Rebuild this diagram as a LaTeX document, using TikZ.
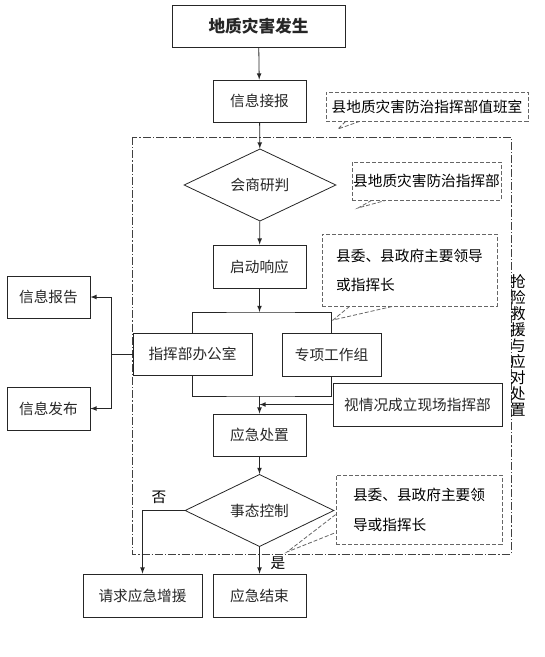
\documentclass[tikz,border=0pt]{standalone}
\usepackage{fontspec}
\setmainfont{Noto Sans CJK SC}
\usetikzlibrary{shapes.geometric,calc}
\begin{document}
\begin{tikzpicture}[x=0.75pt,y=-0.75pt,
	font=\fontsize{11}{13}\selectfont,
	box/.style={draw=black!85, line width=0.6pt, text=black!85, inner sep=0pt},
	pan/.style={diamond, draw=black!85, line width=0.6pt, text=black!85, inner sep=0pt},
	shuoming/.style={draw=black!60, dash pattern=on 3pt off 1.5pt, line width=0.6pt, inner sep=0pt},
	tail/.style={draw=black!60, dash pattern=on 3pt off 1.5pt, line width=0.6pt},
	arr/.style={-latex, line width=0.6pt, draw=black!85}]
	\useasboundingbox (0,0) rectangle (545,657);
	% dash-dot frame
	\draw[black!75, line width=0.6pt, dash pattern=on 6pt off 1.5pt on 1pt off 1.5pt] (132,137) rectangle (511,554);
	\node (jiuyuan) at (518,345) [align=center, font=\fontsize{11.5}{12}\selectfont] {抢\\险\\救\\援\\与\\应\\对\\处\\置};

	\node[box, minimum width=129.75pt, minimum height=31.5pt, font=\fontsize{12.5}{15}\selectfont\bfseries] (fasheng) at (258.5,26.5) {地质灾害发生};
	\node[box, minimum width=69.75pt, minimum height=31.5pt] (jiebao) at (259.5,101) {信息接报};
	\node[shuoming, minimum width=151.5pt, minimum height=21.75pt] (zhiban) at (427,106.5) {县地质灾害防治指挥部值班室};
	\node[pan, minimum width=114pt, minimum height=49.5pt] (yanpan) at (260,185) {会商研判};
	\node[shuoming, minimum width=111.75pt, minimum height=28.5pt] (zhihuibu) at (426.5,181) {县地质灾害防治指挥部};
	\node[box, minimum width=69.75pt, minimum height=32.25pt] (qidong) at (259.5,266.5) {启动响应};
	\node[shuoming, minimum width=131.25pt, minimum height=54pt, align=left, font=\fontsize{11}{21.75}\selectfont] (lingdao) at (409.5,270) {县委、县政府主要领导\\或指挥长};
	\node[box, minimum width=89.25pt, minimum height=31.5pt] (bangong) at (192.5,354) {指挥部办公室};
	\node[box, minimum width=74.25pt, minimum height=32.25pt] (zhuanxiang) at (331.5,354.5) {专项工作组};
	\node[box, minimum width=126.75pt, minimum height=32.25pt] (xianchang) at (417.5,404.5) {视情况成立现场指挥部};
	\node[box, minimum width=62.25pt, minimum height=31.5pt] (baogao) at (48.5,297) {信息报告};
	\node[box, minimum width=62.25pt, minimum height=32.25pt] (fabu) at (48.5,408.5) {信息发布};
	\node[box, minimum width=69.75pt, minimum height=31.5pt] (chuzhi) at (259.5,435) {应急处置};
	\node[pan, minimum width=111.75pt, minimum height=50.25pt] (kongzhi) at (259.5,510.5) {事态控制};
	\node[shuoming, minimum width=124.5pt, minimum height=51.75pt, align=left, font=\fontsize{11}{22.5}\selectfont] (lingdaob) at (419,509.5) {县委、县政府主要领\\导或指挥长};
	\node[box, minimum width=89.25pt, minimum height=32.25pt] (zengyuan) at (142.5,595.5) {请求应急增援};
	\node[box, minimum width=69.75pt, minimum height=32.25pt] (jieshu) at (259.5,595.5) {应急结束};
	\node (fou) at (159,497) {否};
	\node (shi) at (278,563) {是};

	% callout tails
	\coordinate (zhibanjian) at (338,129);
	\draw[tail] ($(zhiban.south west)+(20,0)$) -- (zhibanjian) -- ($(zhiban.south west)+(34,0)$);
	\coordinate (zhihuibujian) at (358,208);
	\draw[tail] ($(zhihuibu.south west)+(20,0)$) -- (zhihuibujian) -- ($(zhihuibu.south west)+(34,0)$);
	\coordinate (lingdaojian) at (333,320);
	\draw[tail] ($(lingdao.south west)+(28,0)$) -- (lingdaojian) -- ($(lingdao.south west)+(71,0)$);
	\coordinate (lingdaobjian) at (287,552);
	\draw[tail] ($(lingdaob.north west)+(0,40)$) -- (lingdaobjian) -- ($(lingdaob.north west)+(0,58)$);

	% flow
	\coordinate (fenzhi) at (259.5,312);
	\coordinate (huiju) at (259.5,396);
	\coordinate (zuo) at (111,354);
	\draw[arr] (fasheng) -- (jiebao);
	\draw[arr] (jiebao) -- (yanpan);
	\draw[arr] (yanpan) -- (qidong);
	\draw[arr] (qidong) -- (fenzhi);
	\draw[line width=0.6pt, black!85] (bangong.north) |- (fenzhi) -| (zhuanxiang.north);
	\draw[line width=0.6pt, black!85] (bangong.south) |- (huiju) -| (zhuanxiang.south);
	\draw[arr] (huiju) -- (chuzhi);
	\draw[arr] (xianchang.west) -- (xianchang.west -| chuzhi.north);
	\draw[line width=0.6pt, black!85] (bangong.west) -- (zuo);
	\draw[arr] (zuo) |- (baogao.east);
	\draw[arr] (zuo) |- (fabu.east);
	\draw[arr] (chuzhi) -- (kongzhi);
	\draw[arr] (kongzhi.west) -| (zengyuan.north);
	\draw[arr] (kongzhi) -- (jieshu);
\end{tikzpicture}
\end{document}
